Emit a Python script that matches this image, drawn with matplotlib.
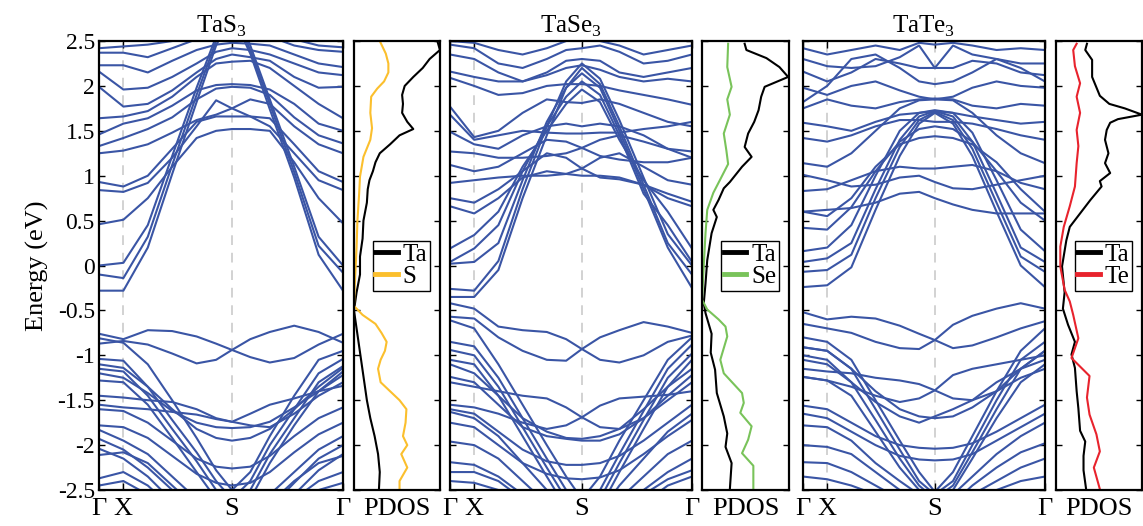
import matplotlib
matplotlib.use("Agg")
import matplotlib.pyplot as plt

plt.rcParams['font.family'] = ['Liberation Serif', 'DejaVu Serif']
plt.rcParams['mathtext.fontset'] = 'custom'
plt.rcParams['mathtext.rm'] = 'Liberation Serif'
plt.rcParams['axes.unicode_minus'] = False

# k-path positions (fraction of the path) and labels
kpts = [0.0, 0.10, 0.20, 0.30, 0.40, 0.48, 0.545, 0.62, 0.70, 0.80, 0.90, 1.0]
k_ticks = [0.0, 0.10, 0.545, 1.0]
k_labels = ['Γ', 'X', 'S', 'Γ']

# band energies (eV) at kpts
tas3_bands = [
    [0.00, 0.03, 0.45, 1.22, 1.98, 2.55, 2.90, 2.45, 1.85, 1.10, 0.32, 0.00],
    [-0.10, -0.14, 0.32, 1.12, 1.90, 2.50, 2.85, 2.40, 1.80, 1.04, 0.22, -0.08],
    [-0.28, -0.28, 0.20, 1.02, 1.82, 2.45, 2.80, 2.36, 1.74, 0.98, 0.12, -0.28],
    [0.46, 0.51, 0.75, 1.10, 1.42, 1.50, 1.52, 1.52, 1.50, 1.15, 0.75, 0.47],
    [0.93, 0.88, 1.00, 1.30, 1.60, 1.66, 1.66, 1.66, 1.64, 1.35, 1.05, 0.93],
    [0.84, 0.82, 0.92, 1.20, 1.55, 1.84, 1.75, 1.66, 1.55, 1.25, 0.95, 0.84],
    [1.25, 1.28, 1.35, 1.48, 1.62, 1.68, 1.75, 1.85, 1.80, 1.55, 1.35, 1.25],
    [1.33, 1.42, 1.52, 1.65, 1.85, 1.97, 1.99, 1.98, 1.90, 1.65, 1.45, 1.36],
    [1.46, 1.58, 1.64, 1.78, 1.95, 2.01, 2.02, 2.01, 1.96, 1.80, 1.58, 1.50],
    [1.64, 1.66, 1.72, 1.88, 2.10, 2.25, 2.27, 2.28, 2.20, 2.00, 1.80, 1.64],
    [1.99, 1.77, 1.80, 1.95, 2.15, 2.30, 2.35, 2.32, 2.28, 2.10, 1.98, 1.99],
    [2.16, 1.96, 1.98, 2.10, 2.25, 2.38, 2.42, 2.40, 2.35, 2.25, 2.15, 2.12],
    [2.23, 2.23, 2.15, 2.28, 2.40, 2.46, 2.48, 2.47, 2.45, 2.35, 2.25, 2.21],
    [2.37, 2.37, 2.32, 2.42, 2.52, 2.60, 2.62, 2.60, 2.55, 2.45, 2.40, 2.38],
    [2.42, 2.44, 2.46, 2.50, 2.58, 2.65, 2.68, 2.65, 2.60, 2.52, 2.45, 2.43],
    [-0.76, -0.82, -0.72, -0.73, -0.79, -0.87, -0.94, -1.02, -1.08, -1.03, -0.88, -0.76],
    [-0.87, -0.84, -0.88, -0.98, -1.09, -1.05, -0.94, -0.82, -0.74, -0.67, -0.74, -0.86],
    [-0.81, -0.86, -1.10, -1.50, -1.92, -2.28, -2.50, -2.30, -1.90, -1.45, -1.05, -0.95],
    [-1.04, -1.06, -1.35, -1.72, -2.08, -2.40, -2.60, -2.40, -2.00, -1.60, -1.20, -1.04],
    [-1.15, -1.18, -1.45, -1.82, -2.18, -2.50, -2.70, -2.50, -2.10, -1.70, -1.30, -1.12],
    [-1.28, -1.30, -1.55, -1.92, -2.30, -2.60, -2.80, -2.60, -2.20, -1.78, -1.40, -1.22],
    [-1.45, -1.47, -1.50, -1.52, -1.60, -1.70, -1.74, -1.65, -1.55, -1.48, -1.40, -1.34],
    [-1.55, -1.58, -1.60, -1.63, -1.66, -1.71, -1.74, -1.78, -1.80, -1.65, -1.45, -1.30],
    [-1.20, -1.25, -1.42, -1.62, -1.75, -1.80, -1.81, -1.80, -1.74, -1.58, -1.40, -1.18],
    [-1.10, -1.14, -1.35, -1.60, -1.82, -1.92, -1.95, -1.92, -1.82, -1.60, -1.35, -1.14],
    [-1.60, -1.62, -1.75, -1.95, -2.15, -2.24, -2.26, -2.24, -2.12, -1.90, -1.70, -1.58],
    [-1.78, -1.80, -1.92, -2.12, -2.32, -2.42, -2.45, -2.42, -2.30, -2.08, -1.88, -1.75],
    [-1.83, -1.95, -2.10, -2.35, -2.60, -2.80, -2.90, -2.80, -2.55, -2.30, -2.05, -1.90],
    [-1.93, -2.05, -2.25, -2.50, -2.75, -2.90, -3.00, -2.90, -2.70, -2.42, -2.15, -2.00],
    [-2.04, -2.15, -2.35, -2.62, -2.85, -3.00, -3.05, -3.00, -2.80, -2.55, -2.28, -2.10],
    [-2.11, -2.08, -2.20, -2.45, -2.70, -2.90, -3.00, -2.90, -2.65, -2.40, -2.20, -2.12],
    [-2.37, -2.30, -2.45, -2.70, -2.90, -3.00, -3.10, -3.00, -2.85, -2.60, -2.40, -2.30],
    [-2.45, -2.40, -2.55, -2.75, -3.00, -3.10, -3.10, -3.10, -3.00, -2.75, -2.50, -2.42],
]

tase3_bands = [
    [-0.26, -0.28, 0.05, 0.85, 1.55, 2.05, 2.25, 2.08, 1.62, 0.98, 0.35, 0.00],
    [-0.35, -0.35, -0.05, 0.75, 1.45, 1.98, 2.20, 2.02, 1.55, 0.90, 0.25, -0.10],
    [0.02, 0.04, 0.25, 0.95, 1.60, 1.98, 2.14, 1.98, 1.50, 0.85, 0.20, -0.25],
    [0.04, 0.19, 0.45, 1.05, 1.55, 1.88, 2.05, 1.90, 1.45, 0.80, 0.45, 0.04],
    [0.19, 0.34, 0.60, 1.10, 1.50, 1.80, 1.96, 1.82, 1.40, 0.95, 0.60, 0.19],
    [0.66, 0.58, 0.75, 0.98, 1.05, 1.02, 1.00, 1.00, 0.98, 0.90, 0.75, 0.66],
    [0.75, 0.70, 0.85, 1.05, 1.25, 1.20, 1.08, 0.98, 0.96, 0.90, 0.80, 0.71],
    [0.92, 0.95, 0.98, 1.00, 1.00, 1.02, 1.08, 1.20, 1.25, 1.10, 0.95, 0.90],
    [1.12, 1.05, 1.10, 1.25, 1.40, 1.38, 1.31, 1.22, 1.18, 1.15, 1.15, 1.20],
    [1.27, 1.25, 1.20, 1.20, 1.22, 1.25, 1.31, 1.40, 1.45, 1.38, 1.30, 1.27],
    [1.49, 1.35, 1.30, 1.45, 1.55, 1.58, 1.55, 1.58, 1.55, 1.45, 1.30, 1.20],
    [1.68, 1.40, 1.45, 1.50, 1.48, 1.47, 1.47, 1.48, 1.48, 1.52, 1.55, 1.60],
    [1.77, 1.43, 1.50, 1.70, 1.85, 1.82, 1.81, 1.85, 1.80, 1.70, 1.60, 1.55],
    [2.09, 2.00, 1.90, 1.92, 2.00, 2.02, 2.02, 2.00, 1.95, 1.90, 1.85, 1.79],
    [2.16, 2.10, 2.05, 2.05, 2.12, 2.20, 2.23, 2.18, 2.10, 2.05, 2.08, 2.05],
    [2.35, 2.30, 2.15, 2.05, 2.15, 2.28, 2.30, 2.28, 2.15, 2.10, 2.15, 2.20],
    [2.46, 2.42, 2.25, 2.20, 2.30, 2.40, 2.42, 2.45, 2.38, 2.25, 2.28, 2.35],
    [2.50, 2.48, 2.40, 2.35, 2.42, 2.50, 2.55, 2.50, 2.45, 2.35, 2.40, 2.45],
    [-0.42, -0.48, -0.68, -0.72, -0.74, -0.82, -0.93, -1.05, -1.08, -1.00, -0.85, -0.78],
    [-0.57, -0.59, -0.80, -0.95, -1.05, -1.06, -0.93, -0.80, -0.72, -0.63, -0.68, -0.75],
    [-0.61, -0.70, -1.10, -1.55, -2.00, -2.35, -2.60, -2.35, -1.95, -1.50, -1.05, -0.80],
    [-0.85, -0.90, -1.25, -1.70, -2.15, -2.50, -2.70, -2.50, -2.10, -1.62, -1.15, -0.88],
    [-0.94, -1.00, -1.35, -1.80, -2.25, -2.60, -2.80, -2.60, -2.20, -1.72, -1.25, -0.98],
    [-1.05, -1.10, -1.45, -1.90, -2.35, -2.70, -2.90, -2.70, -2.30, -1.82, -1.35, -1.05],
    [-1.30, -1.35, -1.40, -1.45, -1.48, -1.58, -1.69, -1.80, -1.82, -1.70, -1.50, -1.30],
    [-1.55, -1.58, -1.65, -1.75, -1.82, -1.78, -1.69, -1.56, -1.48, -1.46, -1.44, -1.40],
    [-1.10, -1.20, -1.45, -1.70, -1.85, -1.92, -1.93, -1.90, -1.82, -1.60, -1.35, -1.15],
    [-1.24, -1.30, -1.55, -1.80, -1.90, -1.93, -1.95, -1.95, -1.88, -1.70, -1.45, -1.22],
    [-1.60, -1.65, -1.85, -2.05, -2.18, -2.22, -2.22, -2.20, -2.12, -1.95, -1.75, -1.55],
    [-1.75, -1.80, -2.00, -2.20, -2.32, -2.37, -2.38, -2.36, -2.28, -2.10, -1.90, -1.72],
    [-1.96, -2.00, -2.15, -2.40, -2.65, -2.85, -2.95, -2.85, -2.60, -2.35, -2.10, -1.95],
    [-2.19, -2.22, -2.35, -2.55, -2.80, -2.95, -3.00, -2.95, -2.75, -2.50, -2.30, -2.15],
    [-2.40, -2.42, -2.50, -2.70, -2.90, -3.00, -3.05, -3.00, -2.90, -2.65, -2.45, -2.35],
    [-1.63, -1.70, -1.90, -2.20, -2.50, -2.75, -2.85, -2.75, -2.45, -2.15, -1.85, -1.65],
    [-2.30, -2.30, -2.40, -2.60, -2.80, -2.95, -3.00, -2.95, -2.80, -2.55, -2.38, -2.28],
]

tate3_bands = [
    [0.04, 0.08, 0.25, 0.85, 1.40, 1.66, 1.72, 1.66, 1.38, 0.80, 0.20, 0.04],
    [-0.07, -0.05, 0.12, 0.75, 1.32, 1.62, 1.71, 1.62, 1.30, 0.70, 0.10, -0.07],
    [-0.24, -0.22, -0.02, 0.62, 1.22, 1.58, 1.70, 1.58, 1.22, 0.60, 0.00, -0.24],
    [0.16, 0.20, 0.45, 1.00, 1.50, 1.70, 1.73, 1.70, 1.48, 0.95, 0.40, 0.16],
    [0.42, 0.40, 0.65, 1.05, 1.38, 1.52, 1.55, 1.52, 1.38, 1.05, 0.70, 0.50],
    [0.60, 0.55, 0.75, 1.10, 1.35, 1.42, 1.44, 1.42, 1.35, 1.15, 0.85, 0.60],
    [0.83, 0.85, 0.95, 1.05, 1.10, 1.08, 1.08, 1.10, 1.12, 1.05, 0.92, 0.85],
    [1.01, 0.95, 0.88, 0.90, 0.98, 1.00, 0.93, 0.86, 0.85, 0.90, 0.95, 1.00],
    [0.60, 0.62, 0.64, 0.70, 0.80, 0.82, 0.75, 0.68, 0.62, 0.58, 0.58, 0.58],
    [1.14, 1.10, 1.25, 1.50, 1.75, 1.84, 1.85, 1.84, 1.70, 1.45, 1.25, 1.14],
    [1.42, 1.38, 1.45, 1.55, 1.62, 1.62, 1.60, 1.60, 1.58, 1.52, 1.45, 1.40],
    [1.59, 1.55, 1.50, 1.60, 1.68, 1.70, 1.72, 1.70, 1.66, 1.62, 1.58, 1.60],
    [1.75, 1.85, 1.78, 1.75, 1.82, 1.85, 1.86, 1.85, 1.78, 1.75, 1.80, 1.78],
    [1.98, 1.90, 2.00, 2.05, 1.95, 1.88, 1.85, 1.88, 1.98, 2.05, 2.00, 1.98],
    [2.16, 2.05, 2.15, 2.30, 2.25, 2.20, 2.20, 2.20, 2.28, 2.25, 2.15, 2.12],
    [2.30, 2.22, 2.20, 2.22, 2.32, 2.45, 2.20, 2.45, 2.35, 2.30, 2.25, 2.25],
    [2.42, 2.35, 2.40, 2.45, 2.40, 2.48, 2.46, 2.48, 2.45, 2.40, 2.42, 2.40],
    [1.82, 2.00, 2.30, 2.35, 2.20, 2.05, 2.02, 2.05, 2.15, 2.30, 2.20, 2.05],
    [-0.52, -0.60, -0.57, -0.59, -0.67, -0.76, -0.83, -0.92, -0.89, -0.80, -0.70, -0.62],
    [-0.65, -0.70, -0.75, -0.85, -0.92, -0.93, -0.83, -0.66, -0.56, -0.48, -0.42, -0.48],
    [-1.15, -1.18, -1.20, -1.25, -1.28, -1.32, -1.39, -1.48, -1.50, -1.40, -1.25, -1.15],
    [-1.24, -1.28, -1.35, -1.45, -1.52, -1.48, -1.39, -1.22, -1.15, -1.10, -1.05, -1.00],
    [-0.91, -0.95, -1.15, -1.40, -1.60, -1.68, -1.70, -1.68, -1.58, -1.40, -1.15, -0.95],
    [-1.05, -1.10, -1.30, -1.52, -1.68, -1.75, -1.68, -1.60, -1.50, -1.30, -1.15, -1.05],
    [-1.56, -1.60, -1.75, -1.90, -2.00, -2.03, -2.04, -2.03, -1.98, -1.85, -1.70, -1.55],
    [-1.65, -1.70, -1.85, -2.00, -2.12, -2.16, -2.17, -2.16, -2.10, -1.95, -1.80, -1.65],
    [-0.80, -0.85, -1.05, -1.50, -1.95, -2.30, -2.52, -2.30, -1.90, -1.40, -0.95, -0.70],
    [-0.91, -0.95, -1.15, -1.60, -2.05, -2.40, -2.55, -2.40, -2.00, -1.50, -1.05, -0.85],
    [-1.00, -1.05, -1.30, -1.72, -2.15, -2.45, -2.60, -2.45, -2.08, -1.60, -1.15, -0.95],
    [-1.24, -1.28, -1.45, -1.85, -2.25, -2.50, -2.65, -2.50, -2.15, -1.70, -1.30, -1.10],
    [-1.78, -1.80, -1.95, -2.20, -2.40, -2.55, -2.60, -2.55, -2.35, -2.10, -1.90, -1.75],
    [-2.00, -2.02, -2.10, -2.30, -2.50, -2.65, -2.70, -2.65, -2.45, -2.25, -2.08, -1.98],
    [-2.19, -2.20, -2.30, -2.45, -2.60, -2.70, -2.75, -2.70, -2.55, -2.40, -2.25, -2.15],
    [-2.35, -2.38, -2.45, -2.55, -2.70, -2.80, -2.85, -2.80, -2.65, -2.50, -2.40, -2.35],
]

# projected DOS (arbitrary units, normalised to panel width)
tas3_ta_e = [2.5, 2.4, 2.3, 2.2, 2.1, 2.0, 1.9, 1.8, 1.7, 1.6, 1.52, 1.45, 1.35, 1.25, 1.15,
             1.05, 0.95, 0.85, 0.7, 0.5, 0.3, 0.1, -0.1, -0.3, -0.5, -0.7, -0.9, -1.1, -1.3,
             -1.5, -1.7, -1.9, -2.1, -2.3, -2.5]
tas3_ta = [0.97, 1.0, 0.88, 0.80, 0.69, 0.59, 0.56, 0.57, 0.56, 0.62, 0.69, 0.53, 0.42, 0.30,
           0.25, 0.22, 0.18, 0.16, 0.15, 0.11, 0.10, 0.07, 0.07, 0.03, 0.00, 0.03, 0.06, 0.09,
           0.12, 0.15, 0.19, 0.24, 0.28, 0.30, 0.29]
tas3_s_e = [2.5, 2.36, 2.25, 2.15, 2.05, 1.97, 1.88, 1.7, 1.53, 1.40, 1.21, 0.99, 0.8, 0.5,
            0.2, 0.0, -0.2, -0.45, -0.55, -0.65, -0.75, -0.85, -0.95, -1.05, -1.15, -1.3,
            -1.4, -1.5, -1.6, -1.75, -1.9, -2.0, -2.1, -2.25, -2.4, -2.5]
tas3_s = [0.30, 0.37, 0.40, 0.40, 0.35, 0.27, 0.20, 0.19, 0.21, 0.19, 0.11, 0.07, 0.06, 0.04,
          0.03, 0.02, 0.01, 0.00, 0.10, 0.25, 0.32, 0.38, 0.36, 0.31, 0.28, 0.31, 0.42, 0.53,
          0.61, 0.60, 0.57, 0.62, 0.55, 0.62, 0.53, 0.53]

tase3_ta_e = [2.47, 2.40, 2.31, 2.21, 2.10, 1.99, 1.88, 1.73, 1.60, 1.47, 1.32, 1.21, 1.10,
              0.93, 0.86, 0.73, 0.62, 0.54, 0.36, 0.06, -0.2, -0.42, -0.53, -0.76, -0.97,
              -1.16, -1.42, -1.68, -1.87, -2.02, -2.2, -2.49]
tase3_ta = [0.49, 0.51, 0.74, 0.89, 0.99, 0.72, 0.68, 0.65, 0.60, 0.53, 0.49, 0.57, 0.46,
            0.32, 0.25, 0.19, 0.13, 0.17, 0.11, 0.06, 0.04, 0.02, 0.04, 0.11, 0.10, 0.15,
            0.17, 0.25, 0.29, 0.27, 0.34, 0.32]
tase3_se_e = [2.47, 2.21, 1.99, 1.85, 1.68, 1.47, 1.28, 1.13, 0.96, 0.81, 0.62, 0.36, 0.0,
              -0.38, -0.49, -0.60, -0.68, -0.79, -1.05, -1.20, -1.42, -1.53, -1.64, -1.79,
              -1.94, -2.09, -2.23, -2.49]
tase3_se = [0.30, 0.29, 0.34, 0.29, 0.32, 0.25, 0.28, 0.30, 0.21, 0.13, 0.06, 0.04, 0.02,
            0.00, 0.06, 0.19, 0.27, 0.29, 0.21, 0.25, 0.46, 0.48, 0.44, 0.57, 0.53, 0.46,
            0.59, 0.59]

tate3_ta_e = [2.47, 2.40, 2.29, 2.10, 1.89, 1.80, 1.75, 1.68, 1.63, 1.59, 1.51, 1.40, 1.25,
              1.14, 1.03, 0.94, 0.88, 0.73, 0.58, 0.43, 0.28, -0.01, -0.30, -0.48, -0.66,
              -0.85, -0.99, -1.14, -1.40, -1.59, -1.84, -1.96, -2.12, -2.28, -2.49]
tate3_ta = [0.36, 0.34, 0.42, 0.42, 0.51, 0.62, 0.80, 1.0, 0.72, 0.63, 0.59, 0.57, 0.61,
            0.57, 0.63, 0.51, 0.53, 0.40, 0.28, 0.16, 0.12, 0.07, 0.10, 0.08, 0.14, 0.22,
            0.18, 0.22, 0.24, 0.26, 0.28, 0.34, 0.32, 0.32, 0.35]
tate3_te_e = [2.47, 2.40, 2.22, 2.03, 1.88, 1.70, 1.51, 1.33, 1.14, 0.88, 0.66, 0.43, 0.21,
              -0.01, -0.27, -0.40, -0.55, -0.81, -1.03, -1.23, -1.47, -1.66, -1.88, -2.07,
              -2.25, -2.49]
tate3_te = [0.24, 0.20, 0.22, 0.28, 0.24, 0.28, 0.24, 0.26, 0.24, 0.22, 0.16, 0.09, 0.05,
            0.05, 0.10, 0.16, 0.20, 0.26, 0.18, 0.39, 0.36, 0.39, 0.47, 0.51, 0.44, 0.51]

band_color = '#3a55a5'
yticks = [-2.5, -2, -1.5, -1, -0.5, 0, 0.5, 1, 1.5, 2, 2.5]

fig = plt.figure(figsize=(11.43, 5.26), dpi=100)
bottom, height = 0.0684, 0.8536
band_x = [0.0866, 0.3937, 0.7025]
band_w = [0.2135, 0.2117, 0.2117]
pdos_x = [0.3097, 0.6142, 0.9239]
pdos_w = [0.0752, 0.0761, 0.0752]


def style_frame(ax):
    for sp in ax.spines.values():
        sp.set_linewidth(1.6)
    ax.set_ylim(-2.5, 2.5)
    ax.set_yticks(yticks)
    ax.tick_params(axis='y', which='both', direction='in', left=True, right=True,
                   length=4, width=1, labelsize=17, pad=3)


def draw_bands(ax, bands, title, show_ylabels):
    for xk in k_ticks[1:3]:
        ax.axvline(xk, color='#d2d2d2', lw=1.4, dashes=(5, 4), zorder=1)
    for band in bands:
        ax.plot(kpts, band, color=band_color, lw=1.5, solid_joinstyle='round', zorder=2)
    ax.set_xlim(0, 1)
    style_frame(ax)
    ax.set_xticks(k_ticks, k_labels)
    ax.tick_params(axis='x', direction='in', top=True, bottom=True, length=5, width=1,
                   labelsize=19, pad=6)
    if show_ylabels:
        ax.set_yticklabels(['%g' % t for t in yticks])
        ax.set_ylabel('Energy (eV)', fontsize=19, labelpad=6)
    else:
        ax.set_yticklabels([])
    ax.set_title(title, fontsize=18, pad=6)


def draw_pdos(ax, e_ta, ta, e_x, x, color, label):
    ax.plot(ta, e_ta, color='black', lw=1.5, label='Ta')
    ax.plot(x, e_x, color=color, lw=1.5, label=label)
    ax.set_xlim(0, 1.0)
    style_frame(ax)
    ax.set_yticklabels([])
    ax.set_xticks([0.5], ['PDOS'])
    ax.tick_params(axis='x', length=0, labelsize=19, pad=6)
    leg = ax.legend(loc='center', bbox_to_anchor=(0.55, 0.5), fontsize=18, handlelength=0.9,
                    handletextpad=0.2, borderpad=0.1, labelspacing=0.0, borderaxespad=0,
                    fancybox=False, framealpha=1, edgecolor='black')
    leg.get_frame().set_linewidth(1.0)
    for h in leg.legend_handles:
        h.set_linewidth(3.5)


titles = ['TaS$_3$', 'TaSe$_3$', 'TaTe$_3$']
all_bands = [tas3_bands, tase3_bands, tate3_bands]
pdos_sets = [
    (tas3_ta_e, tas3_ta, tas3_s_e, tas3_s, '#fbbf2d', 'S'),
    (tase3_ta_e, tase3_ta, tase3_se_e, tase3_se, '#79c35a', 'Se'),
    (tate3_ta_e, tate3_ta, tate3_te_e, tate3_te, '#e8232d', 'Te'),
]

for i in range(3):
    axb = fig.add_axes([band_x[i], bottom, band_w[i], height])
    draw_bands(axb, all_bands[i], titles[i], i == 0)
    axp = fig.add_axes([pdos_x[i], bottom, pdos_w[i], height])
    draw_pdos(axp, *pdos_sets[i])

fig.savefig('out.png', dpi=100)
